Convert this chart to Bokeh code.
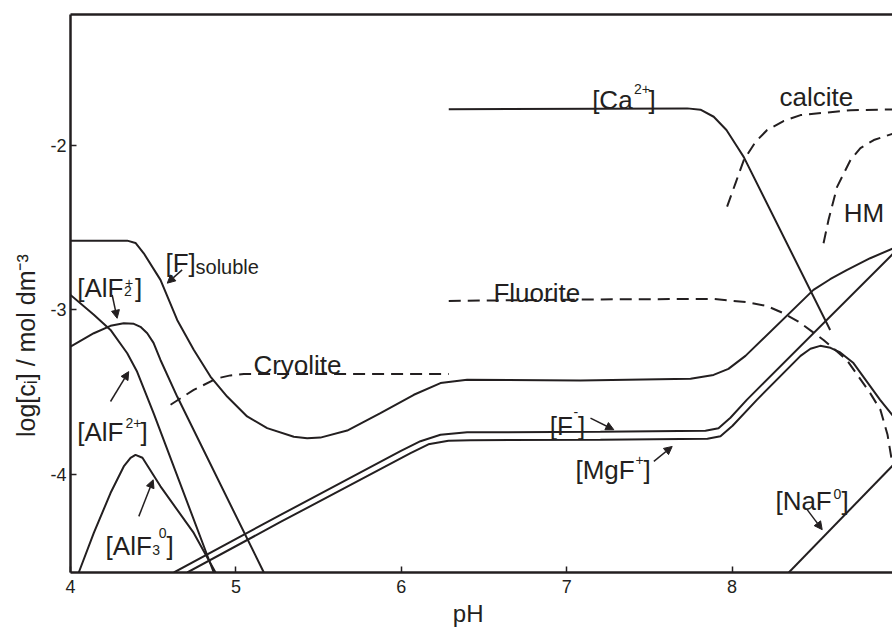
import math
from bokeh.plotting import figure
from bokeh.models import LinearAxis, FixedTicker, Label, Arrow, NormalHead, Range1d
from bokeh.embed import file_html
from bokeh.resources import INLINE

# ---------------- data (pH, log c) ----------------
x_ticks = [4, 5, 6, 7, 8, 9]
y_ticks = [-4, -3, -2]

f_sol_ph = [4.0, 4.343, 4.393, 4.443, 4.544, 4.645, 4.745, 4.846, 4.947, 5.068, 5.189,
            5.350, 5.431, 5.511, 5.673, 5.874, 6.076, 6.237, 6.398, 7.083, 7.749, 7.888,
            7.978, 8.081, 8.492, 8.593, 8.693, 8.835, 8.976]
f_sol_lc = [-2.578, -2.578, -2.592, -2.655, -2.817, -3.061, -3.243, -3.406, -3.528, -3.649, -3.720,
            -3.773, -3.782, -3.778, -3.735, -3.629, -3.517, -3.446, -3.426, -3.430, -3.420, -3.396,
            -3.359, -3.280, -2.878, -2.813, -2.757, -2.685, -2.624]

alf2p_ph = [4.0, 4.141, 4.242, 4.322, 4.383, 4.423, 4.464, 4.502, 4.544, 4.645, 5.169]
alf2p_lc = [-3.223, -3.142, -3.097, -3.081, -3.085, -3.103, -3.142, -3.201, -3.305, -3.528, -4.6]

alf2pp_ph = [4.0, 4.141, 4.242, 4.343, 4.403, 4.504, 4.866]
alf2pp_lc = [-2.909, -3.030, -3.122, -3.264, -3.377, -3.633, -4.6]

alf3_ph = [4.050, 4.141, 4.242, 4.322, 4.363, 4.393, 4.435, 4.544, 4.745, 4.877]
alf3_lc = [-4.6, -4.359, -4.116, -3.954, -3.901, -3.883, -3.901, -4.075, -4.359, -4.6]

f_min_ph = [4.625, 5.270, 5.995, 6.116, 6.237, 6.398, 7.204, 7.839, 7.918, 7.990, 8.089, 8.976]
f_min_lc = [-4.6, -4.249, -3.861, -3.800, -3.761, -3.746, -3.743, -3.736, -3.721, -3.657, -3.548, -2.655]

mgf_ph = [4.706, 5.270, 6.056, 6.164, 6.285, 6.418, 7.204, 7.851, 7.930, 8.003, 8.150, 8.414,
          8.474, 8.533, 8.595, 8.654, 8.734, 8.895, 8.976]
mgf_lc = [-4.6, -4.292, -3.873, -3.819, -3.797, -3.794, -3.791, -3.785, -3.770, -3.706, -3.548, -3.280,
          -3.237, -3.219, -3.231, -3.259, -3.324, -3.548, -3.649]

ca_ph = [6.287, 7.729, 7.809, 7.889, 7.966, 8.031, 8.071, 8.593]
ca_lc = [-1.778, -1.772, -1.780, -1.823, -1.904, -2.006, -2.069, -3.122]

naf_ph = [8.343, 8.976]
naf_lc = [-4.6, -3.943]

cryolite_ph = [4.605, 4.745, 4.887, 4.967, 5.048, 6.287]
cryolite_lc = [-3.578, -3.487, -3.417, -3.399, -3.390, -3.390]

fluorite_ph = [6.287, 7.204, 7.888, 8.087, 8.210, 8.311, 8.401, 8.553, 8.693, 8.835, 8.897, 8.940, 8.968]
fluorite_lc = [-2.945, -2.936, -2.933, -2.953, -2.976, -3.020, -3.071, -3.183, -3.304, -3.507, -3.609, -3.761, -3.931]

calcite_ph = [7.970, 8.021, 8.071, 8.141, 8.212, 8.311, 8.414, 8.716, 8.976]
calcite_lc = [-2.371, -2.227, -2.087, -1.977, -1.904, -1.849, -1.813, -1.783, -1.778]

hm_ph = [8.553, 8.583, 8.635, 8.716, 8.776, 8.857, 8.976]
hm_lc = [-2.594, -2.452, -2.250, -2.087, -2.014, -1.965, -1.925]

# ---------------- styling ----------------
FONT = "Liberation Sans"
INK = "#231f20"
BIG = "26px"
SMALL = "14px"
NBSP = "\u00a0"

p = figure(frame_width=822, frame_height=558,
           x_range=Range1d(4, 8.970), y_range=Range1d(-4.6, -1.2),
           output_backend="svg", toolbar_location=None,
           min_border_left=70, min_border_right=0, min_border_top=14, min_border_bottom=54)
p.outline_line_color = None
p.grid.visible = False
p.background_fill_color = "white"
p.border_fill_color = "white"

for ax in (p.xaxis[0], p.yaxis[0]):
    ax.axis_line_color = INK
    ax.axis_line_width = 2.5
    ax.major_tick_line_color = INK
    ax.major_tick_line_width = 1.5
    ax.major_tick_in = 6
    ax.major_tick_out = 0
    ax.minor_tick_line_color = None
    ax.major_label_text_font = FONT
    ax.major_label_text_font_size = "18px"
    ax.major_label_text_color = INK
    ax.axis_label_text_font = FONT
    ax.axis_label_text_font_style = "normal"
    ax.axis_label_text_color = INK

p.xaxis[0].ticker = FixedTicker(ticks=x_ticks)
p.yaxis[0].ticker = FixedTicker(ticks=y_ticks)
p.yaxis[0].major_label_overrides = {t: str(t) for t in y_ticks}
p.xaxis[0].major_label_standoff = 7
p.yaxis[0].major_label_standoff = 4

p.xaxis[0].axis_label = "pH" + NBSP * 4
p.xaxis[0].axis_label_text_font_size = "24px"
p.xaxis[0].axis_label_standoff = 4
p.yaxis[0].axis_label = "log[c\u1d62] / mol dm\u207b\u00b3" + NBSP * 15
p.yaxis[0].axis_label_text_font_size = "25px"
p.yaxis[0].axis_label_standoff = 7

top = LinearAxis(ticker=FixedTicker(ticks=[]), axis_line_color=INK, axis_line_width=2.5,
                 major_tick_in=0, major_tick_out=0, minor_tick_line_color=None,
                 major_label_text_font_size="0px", major_label_standoff=0, axis_label_standoff=0)
p.add_layout(top, "above")

solid = dict(line_color=INK, line_width=2)
dashed = dict(line_color=INK, line_width=2, line_dash="12 7")

for xs, ys in [(f_sol_ph, f_sol_lc), (alf2p_ph, alf2p_lc), (alf2pp_ph, alf2pp_lc),
               (alf3_ph, alf3_lc), (f_min_ph, f_min_lc), (mgf_ph, mgf_lc),
               (ca_ph, ca_lc), (naf_ph, naf_lc)]:
    p.line(xs, ys, **solid)
for xs, ys in [(cryolite_ph, cryolite_lc), (fluorite_ph, fluorite_lc),
               (calcite_ph, calcite_lc), (hm_ph, hm_lc)]:
    p.line(xs, ys, **dashed)

# ---------------- text pieces (text, pH, log c, size) ----------------
pieces = [
    ("[F]", 4.574, -2.714, BIG), ("soluble", 4.756, -2.736, "20px"),
    ("[AlF", 4.041, -2.868, BIG), ("2", 4.323, -2.884, SMALL), ("+", 4.329, -2.837, SMALL), ("]", 4.390, -2.868, BIG),
    ("[AlF", 4.041, -3.741, BIG), ("2+", 4.333, -3.690, SMALL), ("]", 4.423, -3.741, BIG),
    ("[AlF", 4.212, -4.441, BIG), ("3", 4.494, -4.461, SMALL), ("0", 4.534, -4.359, SMALL), ("]", 4.580, -4.441, BIG),
    ("Cryolite", 5.106, -3.335, BIG),
    ("Fluorite", 6.557, -2.898, BIG),
    ("[Ca", 7.154, -1.722, BIG), ("2+", 7.407, -1.651, SMALL), ("]", 7.495, -1.722, BIG),
    ("calcite", 8.287, -1.702, BIG),
    ("HM", 8.675, -2.408, BIG),
    ("[F", 6.898, -3.710, BIG), ("-", 7.041, -3.621, SMALL), ("]", 7.068, -3.710, BIG),
    ("[MgF", 7.053, -3.974, BIG), ("+", 7.416, -3.913, SMALL), ("]", 7.464, -3.974, BIG),
    ("[NaF", 8.262, -4.167, BIG), ("0", 8.613, -4.120, SMALL), ("]", 8.661, -4.167, BIG),
]
for t, x, y, s in pieces:
    p.add_layout(Label(x=x, y=y, text=t, text_font=FONT, text_font_size=s, text_color=INK,
                       text_align="left", text_baseline="alphabetic"))

# arrows (start pH, start log c, end pH, end log c)
arrows = [
    (4.675, -2.756, 4.585, -2.837),
    (4.252, -2.909, 4.282, -3.051),
    (4.242, -3.558, 4.352, -3.376),
    (4.413, -4.258, 4.500, -4.035),
    (7.144, -3.659, 7.285, -3.730),
    (7.527, -3.923, 7.638, -3.832),
    (8.454, -4.217, 8.545, -4.339),
]
for x0, y0, x1, y1 in arrows:
    p.add_layout(Arrow(x_start=x0, y_start=y0, x_end=x1, y_end=y1, line_color=INK, line_width=1.5,
                       end=NormalHead(size=8, fill_color=INK, line_color=INK, line_width=1)))

open("out.html", "w").write(file_html(p, INLINE))
